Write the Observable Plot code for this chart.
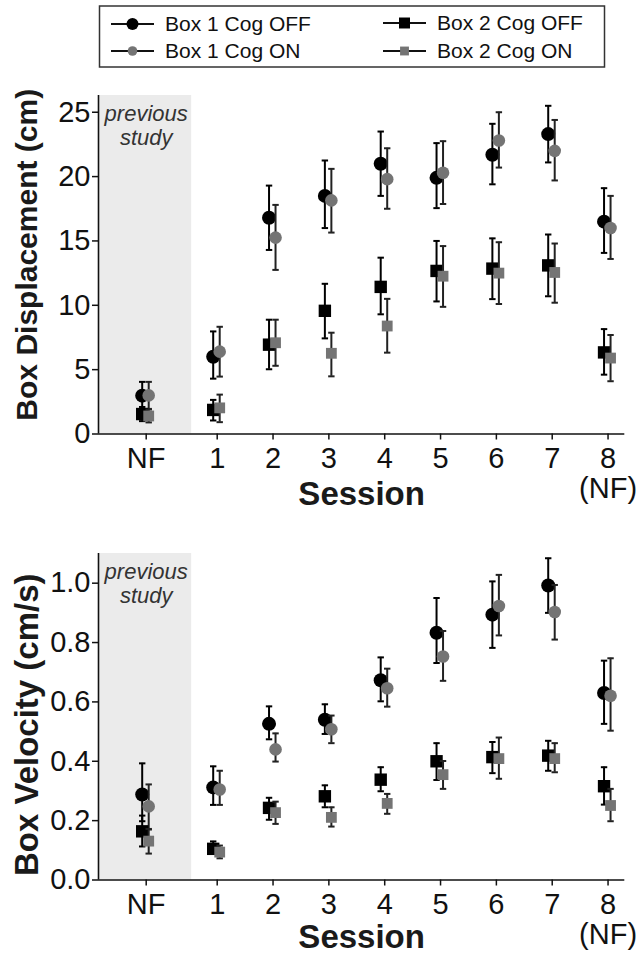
<!DOCTYPE html>
<html><head><meta charset="utf-8">
<script src="https://cdn.jsdelivr.net/npm/d3@7"></script>
<script src="https://cdn.jsdelivr.net/npm/@observablehq/plot@0.6"></script>
<style>
body{margin:0;background:#fff;width:640px;height:954px;position:relative;overflow:hidden;font-family:"Liberation Sans",Arial,sans-serif}
#legend,#top,#bottom{position:absolute;left:0}
#legend{top:0}
#top{top:75px}
#bottom{top:520px}
</style></head><body>
<div id="legend"></div><div id="top"></div><div id="bottom"></div>
<script>
// ---------- data ----------
const sessions = ["NF","1","2","3","4","5","6","7","8"];
const sessionTickLabels = ["NF","1","2","3","4","5","6","7","8\n(NF)"];
const seriesNames = ["Box 1 Cog OFF","Box 1 Cog ON","Box 2 Cog OFF","Box 2 Cog ON"];

// Box displacement (cm): mean, upper and lower error-bar ends
const dispB1Off   = [2.98, 6.0, 16.8, 18.5, 21.0, 19.9, 21.7, 23.3, 16.5];
const dispB1OffHi = [4.05, 7.97, 19.3, 21.25, 23.5, 22.6, 24.1, 25.5, 19.1];
const dispB1OffLo = [1.9, 4.3, 14.3, 16.0, 18.5, 17.55, 19.4, 21.1, 14.07];
const dispB1On    = [3.0, 6.4, 15.26, 18.15, 19.8, 20.3, 22.8, 22.0, 16.0];
const dispB1OnHi  = [4.05, 8.33, 17.8, 20.6, 22.2, 22.75, 25.0, 24.4, 18.5];
const dispB1OnLo  = [1.95, 4.46, 12.75, 15.65, 17.5, 17.87, 20.7, 19.7, 13.6];
const dispB2Off   = [1.55, 1.87, 6.94, 9.57, 11.43, 12.67, 12.85, 13.1, 6.34];
const dispB2OffHi = [2.1, 2.65, 8.88, 11.67, 13.7, 15.0, 15.2, 15.5, 8.15];
const dispB2OffLo = [1.0, 1.05, 5.03, 7.43, 9.3, 10.3, 10.48, 10.7, 4.61];
const dispB2On    = [1.4, 2.03, 7.09, 6.27, 8.39, 12.26, 12.5, 12.55, 5.9];
const dispB2OnHi  = [1.9, 3.06, 8.88, 7.87, 10.5, 14.6, 14.9, 14.8, 7.69];
const dispB2OnLo  = [0.9, 0.92, 5.3, 4.48, 6.32, 9.88, 10.1, 10.2, 4.1];

// Box velocity (cm/s)
const velB1Off   = [0.288, 0.312, 0.526, 0.540, 0.673, 0.833, 0.894, 0.992, 0.630];
const velB1OffHi = [0.393, 0.383, 0.585, 0.592, 0.750, 0.950, 1.006, 1.084, 0.739];
const velB1OffLo = [0.198, 0.253, 0.474, 0.492, 0.602, 0.731, 0.782, 0.900, 0.526];
const velB1On    = [0.248, 0.305, 0.440, 0.508, 0.646, 0.753, 0.923, 0.903, 0.621];
const velB1OnHi  = [0.322, 0.368, 0.494, 0.554, 0.712, 0.839, 1.028, 0.994, 0.747];
const velB1OnLo  = [0.170, 0.253, 0.399, 0.461, 0.584, 0.671, 0.824, 0.810, 0.503];
const velB2Off   = [0.164, 0.105, 0.243, 0.282, 0.338, 0.400, 0.414, 0.419, 0.316];
const velB2OffHi = [0.217, 0.130, 0.277, 0.319, 0.380, 0.461, 0.465, 0.469, 0.380];
const velB2OffLo = [0.113, 0.088, 0.203, 0.245, 0.299, 0.337, 0.360, 0.368, 0.254];
const velB2On    = [0.131, 0.094, 0.227, 0.211, 0.258, 0.355, 0.409, 0.409, 0.251];
const velB2OnHi  = [0.172, 0.116, 0.264, 0.245, 0.290, 0.401, 0.480, 0.461, 0.307];
const velB2OnLo  = [0.089, 0.073, 0.189, 0.180, 0.223, 0.307, 0.341, 0.363, 0.198];

const dispTicks = [0, 5, 10, 15, 20, 25];
const velTicks = [0, 0.2, 0.4, 0.6, 0.8, 1.0];

// ---------- styles ----------
const FONT = '"Liberation Sans", Arial, Helvetica, sans-serif';
const GRAY = "#747474";
const seriesStyle = [
  {symbol: "circle", fill: "#000", r: 7.0, dx: -4, bar: "#000"},
  {symbol: "circle", fill: GRAY,  r: 6.3, dx: 2.5, bar: "#222"},
  {symbol: "square", fill: "#000", r: 7.0, dx: -4, bar: "#000"},
  {symbol: "square", fill: GRAY,  r: 6.1, dx: 2.5, bar: "#222"}
];
const capSymbol = {draw(ctx, size) { const w = Math.sqrt(size / Math.PI); ctx.moveTo(-w, 0); ctx.lineTo(w, 0); }};

// piecewise session scale: NF sits further left of session 1
const xDomain = [-0.85, 0, 1, 8.3];
const xRange = [98, 145.7, 216.7, 624.3];
const shadeEnd = 0.64;

function rows(v, lo, hi) { return sessions.map((s, i) => ({i, v: v[i], lo: lo[i], hi: hi[i]})); }

function seriesMarks(data, st) {
  return [
    Plot.ruleX(data, {x: "i", y1: "lo", y2: "hi", dx: st.dx, stroke: st.bar, strokeWidth: 2}),
    Plot.dot(data, {x: "i", y: "hi", dx: st.dx, symbol: capSymbol, r: 3.2, stroke: st.bar, strokeWidth: 2, fill: "none"}),
    Plot.dot(data, {x: "i", y: "lo", dx: st.dx, symbol: capSymbol, r: 3.2, stroke: st.bar, strokeWidth: 2, fill: "none"}),
    Plot.dot(data, {x: "i", y: "v", dx: st.dx, symbol: st.symbol, r: st.r, fill: st.fill, stroke: "none"})
  ];
}

function panel({series, yMax, yTicks, yFormat, yLabel, labelSize, height, marginTop, marginBottom, labelDy, titleDy}) {
  return Plot.plot({
    width: 640, height, marginLeft: 98, marginRight: 15.7, marginTop, marginBottom,
    style: {fontFamily: FONT, fontSize: "29px", color: "#111", background: "white", overflow: "visible"},
    x: {type: "linear", domain: xDomain, range: xRange},
    y: {domain: [0, yMax]},
    marks: [
      Plot.rect([0], {x1: () => xDomain[0], x2: () => shadeEnd, y1: () => 0, y2: () => yMax, fill: "#ebebeb"}),
      Plot.text([0], {x: () => 0, frameAnchor: "top", dy: 30, text: () => "previous\nstudy", fontStyle: "italic", fontSize: 22, lineHeight: 1.09, fill: "#333", lineAnchor: "middle"}),
      ...series.flatMap((d, k) => seriesMarks(d, seriesStyle[k])),
      Plot.ruleY([0], {stroke: "#111", strokeWidth: 1.6}),
      Plot.ruleX([xDomain[0]], {stroke: "#111", strokeWidth: 1.6}),
      Plot.axisY({ticks: yTicks, tickFormat: yFormat, tickSize: 6, tickPadding: 2, label: null, strokeWidth: 1.5, fill: "#111"}),
      Plot.axisX({ticks: d3.range(sessions.length), tickFormat: i => sessionTickLabels[i], tickSize: 6, tickPadding: 7, label: null, strokeWidth: 1.5, lineHeight: 1.03, fill: "#111"}),
      Plot.text([0], {frameAnchor: "left", textAnchor: "middle", lineAnchor: "middle", dx: -71, dy: labelDy, rotate: -90, text: () => yLabel, fontWeight: "bold", fontSize: labelSize, fill: "#1a1a1a"}),
      Plot.text([0], {frameAnchor: "bottom", lineAnchor: "middle", dy: titleDy, text: () => "Session", fontWeight: "bold", fontSize: 33, fill: "#1a1a1a"})
    ]
  });
}

const topChart = panel({
  series: [rows(dispB1Off, dispB1OffLo, dispB1OffHi), rows(dispB1On, dispB1OnLo, dispB1OnHi),
           rows(dispB2Off, dispB2OffLo, dispB2OffHi), rows(dispB2On, dispB2OnLo, dispB2OnHi)],
  yMax: 26.3, yTicks: dispTicks, yFormat: d3.format("d"), yLabel: "Box Displacement (cm)", labelSize: 30,
  height: 440, marginTop: 20, marginBottom: 81.5, labelDy: -10, titleDy: 60
});
document.getElementById("top").append(topChart);

const bottomChart = panel({
  series: [rows(velB1Off, velB1OffLo, velB1OffHi), rows(velB1On, velB1OnLo, velB1OnHi),
           rows(velB2Off, velB2OffLo, velB2OffHi), rows(velB2On, velB2OnLo, velB2OnHi)],
  yMax: 1.1, yTicks: velTicks, yFormat: d3.format(".1f"), yLabel: "Box Velocity (cm/s)", labelSize: 33,
  height: 434, marginTop: 33, marginBottom: 74.5, labelDy: 8, titleDy: 57
});
document.getElementById("bottom").append(bottomChart);

// ---------- legend ----------
const lg = d3.select("#legend").append("svg").attr("width", 640).attr("height", 75)
  .style("font-family", FONT);
lg.append("rect").attr("x", 99.5).attr("y", 6).attr("width", 505).attr("height", 61)
  .attr("fill", "none").attr("stroke", "#333").attr("stroke-width", 1.5);
const legendPos = [{x: 111, y: 24}, {x: 111, y: 51}, {x: 383, y: 23}, {x: 383, y: 51}];
seriesNames.forEach((name, k) => {
  const p = legendPos[k], st = seriesStyle[k];
  const g = lg.append("g").attr("transform", `translate(${p.x},${p.y})`);
  g.append("line").attr("x1", 0).attr("x2", 43).attr("stroke", "#111").attr("stroke-width", 2);
  const sym = st.symbol === "circle" ? d3.symbolCircle : d3.symbolSquare;
  const rr = k === 0 ? 6 : k === 1 ? 4.8 : k === 2 ? 6.2 : 5;
  g.append("path").attr("transform", "translate(21.5,0)")
    .attr("d", d3.symbol(sym, Math.PI * rr * rr)()).attr("fill", st.fill);
  g.append("text").attr("x", 54).attr("y", 0).attr("dy", "0.35em")
    .attr("font-size", 21).attr("fill", "#111").text(name);
});
</script>
</body></html>
